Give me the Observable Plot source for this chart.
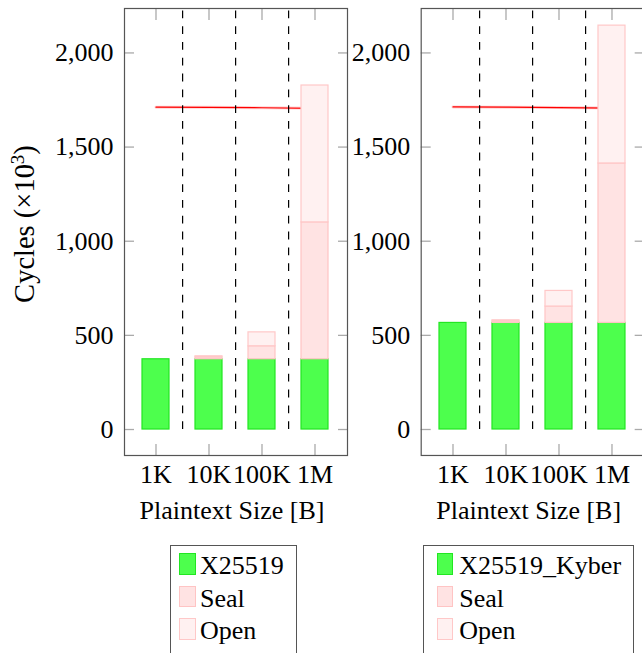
<!DOCTYPE html>
<html>
<head>
<meta charset="utf-8">
<script src="https://cdn.jsdelivr.net/npm/d3@7"></script>
<script src="https://cdn.jsdelivr.net/npm/@observablehq/plot@0.6"></script>
<style>
  html, body { margin: 0; padding: 0; background: white; }
  #page { position: relative; width: 642px; height: 653px; overflow: hidden; background: white; font-family: "Liberation Serif", serif; }
  .panel { position: absolute; top: 0; }
  .legend { position: absolute; border: 1px solid #555; box-sizing: border-box; background: white; }
  .row { position: absolute; left: 0; height: 32.5px; line-height: 32.5px; font-size: 26px; white-space: nowrap; color: black; }
  .sw { position: absolute; box-sizing: border-box; }
</style>
</head>
<body>
<div id="page"></div>
<script>
// ---- data ----
const categories = ["1K", "10K", "100K", "1M"];
const yTicks = [0, 500, 1000, 1500, 2000];

// left panel: X25519
const leftBase = [373, 373, 373, 373];
const leftSeal = [0, 10, 69, 727];
const leftOpen = [0, 6, 74, 727];
const leftRef = [1712, 1711, 1709, 1706];

// right panel: X25519_Kyber
const rightBase = [566, 566, 566, 566];
const rightSeal = [0, 8, 87, 847];
const rightOpen = [0, 6, 83, 732];
const rightRef = [1713, 1712, 1710, 1707];

const seriesNamesLeft = ["X25519", "Seal", "Open"];
const seriesNamesRight = ["X25519_Kyber", "Seal", "Open"];

// ---- styles ----
const fills = ["#4dff4d", "#ffe3e3", "#fff1f1"];
const strokes = ["#22e622", "#ffc4c4", "#ffc8c8"];

const yDomain = [-138, 2236];
const frameW = 223;
const padIn = 0.49, padOut = 0.34;
const step = frameW / (categories.length - padIn + 2 * padOut);
const H = 530;
const marginTop = 8;
const marginBottom = H - 455;
const FONT = "'Liberation Serif', 'Times New Roman', serif";

function panel(base, seal, open, ref, names, marginLeft) {
  const rows = [];
  categories.forEach((c, i) => {
    [base[i], seal[i], open[i]].forEach((v, k) => {
      if (v > 0) rows.push({cat: c, series: names[k], value: v, fill: fills[k], stroke: strokes[k]});
    });
  });
  const refRows = categories.map((c, i) => ({cat: c, value: ref[i]}));
  const seps = categories.slice(0, -1);
  return Plot.plot({
    width: marginLeft + frameW + 3,
    height: H,
    marginLeft,
    marginRight: 3,
    marginTop,
    marginBottom,
    style: {fontFamily: FONT, fontSize: "26px", color: "black", background: "white", overflow: "visible"},
    x: {type: "band", domain: categories, paddingInner: padIn, paddingOuter: padOut, label: null},
    y: {domain: yDomain, label: null},
    marks: [
      // inside ticks
      Plot.axisY({ticks: yTicks, anchor: "left", tickSize: 10, dx: 10, fill: "none", stroke: "#aaa", strokeWidth: 1.3, label: null}),
      Plot.axisY({ticks: yTicks, anchor: "right", tickSize: 10, dx: -10, fill: "none", stroke: "#aaa", strokeWidth: 1.3, label: null}),
      Plot.axisX({anchor: "bottom", tickSize: 11, dy: -11, fill: "none", stroke: "#aaa", strokeWidth: 1.3, label: null}),
      Plot.axisX({anchor: "top", tickSize: 11, dy: 11, fill: "none", stroke: "#aaa", strokeWidth: 1.3, label: null}),
      // tick labels
      Plot.axisY({ticks: yTicks, anchor: "left", tickSize: 0, tickPadding: 11, tickFormat: d3.format(","), fontSize: 26, label: null}),
      Plot.axisX({anchor: "bottom", tickSize: 0, tickPadding: 9, fontSize: 26, label: null}),
      // reference line
      Plot.lineY(refRows, {x: "cat", y: "value", stroke: "#ff8080", strokeWidth: 3, strokeOpacity: 0.35}),
      Plot.lineY(refRows, {x: "cat", y: "value", stroke: "#ff0000", strokeWidth: 1.2}),
      // separators
      Plot.ruleX(seps, {x: d => d, dx: step / 2, y1: 0, y2: yDomain[1], stroke: "black", strokeWidth: 1.2, strokeDasharray: "7.8,8"}),
      // stacked bars
      Plot.barY(rows, Plot.stackY({x: "cat", y: "value", fill: "fill", stroke: "stroke", strokeWidth: 1.2, order: null})),
      // axis title
      Plot.text(["Plaintext Size [B]"], {frameAnchor: "bottom", lineAnchor: "top", dy: 45, dx: -4, fontSize: 26, fill: "black"}),
      Plot.frame({stroke: "#555", strokeWidth: 1.2})
    ]
  });
}

const page = document.getElementById("page");

const p1 = panel(leftBase, leftSeal, leftOpen, leftRef, seriesNamesLeft, 124);
p1.classList.add("panel");
p1.style.left = "0px";
page.appendChild(p1);

const p2 = panel(rightBase, rightSeal, rightOpen, rightRef, seriesNamesRight, 70.7);
p2.classList.add("panel");
p2.style.left = "350px";
page.appendChild(p2);

// y axis title (rotated)
const ylab = document.createElementNS("http://www.w3.org/2000/svg", "svg");
ylab.setAttribute("width", "50");
ylab.setAttribute("height", "455");
ylab.style.position = "absolute";
ylab.style.left = "0px";
ylab.style.top = "0px";
ylab.innerHTML = `<text transform="translate(34,224) rotate(-90)" text-anchor="middle" font-family="Liberation Serif, serif" font-size="28.5" fill="black">Cycles (×10<tspan dy="-10" font-size="19">3</tspan><tspan dy="10">)</tspan></text>`;
page.appendChild(ylab);

// legends
function legend(names, left, right, swLeft, textLeft) {
  const box = document.createElement("div");
  box.className = "legend";
  box.style.left = left + "px";
  box.style.top = "545px";
  box.style.width = (right - left) + "px";
  box.style.height = "130px";
  names.forEach((n, k) => {
    const row = document.createElement("div");
    row.className = "row";
    row.style.top = (4 + 32.5 * k) + "px";
    row.style.width = "100%";
    const sw = document.createElement("div");
    sw.className = "sw";
    sw.style.left = (swLeft - left - 1) + "px";
    sw.style.top = "3px";
    sw.style.width = "16.5px";
    sw.style.height = "21.5px";
    sw.style.background = fills[k];
    sw.style.border = "1.2px solid " + strokes[k];
    row.appendChild(sw);
    const t = document.createElement("span");
    t.style.position = "absolute";
    t.style.left = (textLeft - left - 1) + "px";
    t.textContent = n;
    row.appendChild(t);
    box.appendChild(row);
  });
  page.appendChild(box);
}
legend(seriesNamesLeft, 170, 297, 179, 200);
legend(seriesNamesRight, 423, 634, 436.7, 459.3);
</script>
</body>
</html>
